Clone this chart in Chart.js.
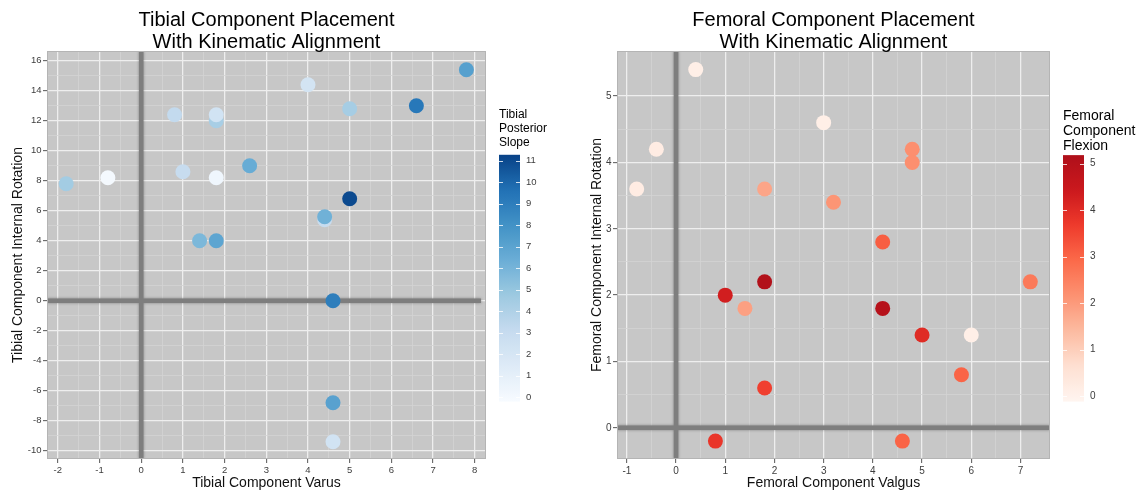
<!DOCTYPE html>
<html>
<head>
<meta charset="utf-8">
<script src="https://cdn.jsdelivr.net/npm/chart.js@4.4.1/dist/chart.umd.min.js"></script>
<style>
  html, body { margin: 0; padding: 0; background: #fff; }
  #wrap { position: relative; width: 1145px; height: 493px; overflow: hidden; }
  .box { position: absolute; top: 0; }
</style>
</head>
<body>
<div id="wrap">
  <div class="box" style="left:0"><canvas id="tibial" width="572" height="493"></canvas></div>
  <div class="box" style="left:572px"><canvas id="femoral" width="573" height="493"></canvas></div>
</div>
<script>
// tibial component (left plot)
const tibialVarus    = [-1.8, -0.8, 0.8, 1.8, 1.8, 1.0, 1.8, 2.6, 1.4, 1.8, 4.0, 5.0, 6.6, 7.8, 5.0, 4.4, 4.4, 4.6, 4.6, 4.6];
const tibialRotation = [7.8, 8.2, 12.4, 12.0, 12.4, 8.6, 8.2, 9.0, 4.0, 4.0, 14.4, 12.8, 13.0, 15.4, 6.8, 5.4, 5.6, 0.0, -6.8, -9.4];
const tibialSlope    = [4.5, 0.0, 3.2, 4.3, 2.3, 3.0, 0.3, 6.5, 5.8, 6.9, 2.2, 4.4, 9.3, 7.2, 11.0, 3.0, 6.2, 9.0, 7.1, 2.3];
const tibialXTicks = [-2, -1, 0, 1, 2, 3, 4, 5, 6, 7, 8];
const tibialYTicks = [-10, -8, -6, -4, -2, 0, 2, 4, 6, 8, 10, 12, 14, 16];
const slopeTicks = [0, 1, 2, 3, 4, 5, 6, 7, 8, 9, 10, 11];

// femoral component (right plot)
const femoralValgus   = [0.4, -0.4, -0.8, 3.0, 1.8, 3.2, 4.8, 4.8, 4.2, 1.8, 1.0, 1.4, 1.8, 0.8, 7.2, 4.2, 5.0, 6.0, 5.8, 4.6];
const femoralRotation = [5.4, 4.2, 3.6, 4.6, 3.6, 3.4, 4.2, 4.0, 2.8, 2.2, 2.0, 1.8, 0.6, -0.2, 2.2, 1.8, 1.4, 1.4, 0.8, -0.2];
const femoralFlexion  = [0.1, 0.2, 0.2, 0.1, 1.8, 2.1, 2.2, 2.2, 3.1, 5.1, 4.3, 1.9, 3.6, 3.8, 2.6, 5.0, 4.0, 0.1, 3.0, 3.0];
const femoralXTicks = [-1, 0, 1, 2, 3, 4, 5, 6, 7];
const femoralYTicks = [0, 1, 2, 3, 4, 5];
const flexionTicks = [0, 1, 2, 3, 4, 5];

const BLUES = ['#F7FBFF', '#DEEBF7', '#C6DBEF', '#9ECAE1', '#6BAED6', '#4292C6', '#2171B5', '#084287'];
const REDS  = ['#FFF5F0', '#FEE0D2', '#FCBBA1', '#FC9272', '#FB6A4A', '#EF3B2C', '#CB181D', '#AF101A'];

const FONT = '"Liberation Sans", Arial, sans-serif';

function hexToRgb(h) {
  return [parseInt(h.substr(1, 2), 16), parseInt(h.substr(3, 2), 16), parseInt(h.substr(5, 2), 16)];
}

function colourScale(stops, lo, hi) {
  const rgb = stops.map(hexToRgb);
  return (v) => {
    let t = (v - lo) / (hi - lo);
    t = Math.max(0, Math.min(1, t)) * (rgb.length - 1);
    const i = Math.min(rgb.length - 2, Math.floor(t));
    const f = t - i;
    const c = rgb[i].map((a, k) => Math.round(a + (rgb[i + 1][k] - a) * f));
    return 'rgb(' + c.join(',') + ')';
  };
}

// major ticks plus the ggplot-style minor lines half way between
function withMinor(ticks) {
  const out = [];
  ticks.forEach((t, i) => {
    out.push(t);
    if (i < ticks.length - 1) out.push((t + ticks[i + 1]) / 2);
  });
  return out;
}

function makePlot(id, cfg) {
  const major = new Set(cfg.xTicks);
  const majorY = new Set(cfg.yTicks);
  const colour = colourScale(cfg.stops, cfg.barMin, cfg.barMax);

  const gridOpts = (set) => ({
    color: (c) => set.has(c.tick.value) ? '#eeeeee' : '#d3d3d3',
    lineWidth: (c) => set.has(c.tick.value) ? 1.3 : 0.8,
    tickLength: 4,
    tickColor: (c) => set.has(c.tick.value) ? '#555555' : 'rgba(0,0,0,0)',
    tickWidth: 1
  });

  const panelPlugin = {
    id: 'panel',
    beforeDraw(chart) {
      const { ctx, chartArea: a } = chart;
      ctx.save();
      ctx.fillStyle = '#c7c7c7';
      ctx.fillRect(a.left, a.top, a.right - a.left, a.bottom - a.top);
      ctx.restore();
    },
    beforeDatasetsDraw(chart) {
      const { ctx, chartArea: a, scales } = chart;
      const x0 = scales.x.getPixelForValue(0);
      const y0 = scales.y.getPixelForValue(0);
      ctx.save();
      ctx.beginPath();
      ctx.rect(a.left, a.top, a.right - a.left, a.bottom - a.top);
      ctx.clip();
      ctx.strokeStyle = '#7e7e7e';
      ctx.lineWidth = 4.5;
      ctx.shadowColor = 'rgba(0,0,0,0.35)';
      ctx.shadowBlur = 3;
      ctx.beginPath();
      ctx.moveTo(x0, a.top); ctx.lineTo(x0, a.bottom);
      ctx.moveTo(a.left, y0); ctx.lineTo(a.right - cfg.hlineInset, y0);
      ctx.stroke();
      ctx.restore();
      ctx.save();
      ctx.strokeStyle = '#b4b4b4';
      ctx.lineWidth = 1;
      ctx.strokeRect(a.left + 0.5, a.top + 0.5, a.right - a.left - 1, a.bottom - a.top - 1);
      ctx.restore();
    },
    afterDraw(chart) {
      const { ctx, chartArea: a } = chart;
      ctx.save();
      // title
      ctx.fillStyle = '#000';
      ctx.font = '20px ' + FONT;
      ctx.textAlign = 'center';
      ctx.textBaseline = 'alphabetic';
      const cx = (a.left + a.right) / 2;
      ctx.fillText(cfg.title[0], cx, 26);
      ctx.fillText(cfg.title[1], cx, 48);

      // colour bar legend
      const L = cfg.legend;
      ctx.textAlign = 'left';
      ctx.fillStyle = '#000';
      ctx.font = L.titleSize + 'px ' + FONT;
      cfg.legendTitle.forEach((t, i) => ctx.fillText(t, L.x, L.titleBase + i * L.titleGap));

      const yOf = (v) => L.zeroY - v * L.unit;
      const top = yOf(cfg.barMax), bottom = yOf(cfg.barMin);
      const grad = ctx.createLinearGradient(0, bottom, 0, top);
      for (let k = 0; k <= 40; k++) {
        grad.addColorStop(k / 40, colour(cfg.barMin + (cfg.barMax - cfg.barMin) * k / 40));
      }
      ctx.fillStyle = grad;
      ctx.fillRect(L.x, top, L.w, bottom - top);

      ctx.strokeStyle = 'rgba(255,255,255,0.8)';
      ctx.lineWidth = 1;
      ctx.fillStyle = '#3d3d3d';
      ctx.font = L.tickSize + 'px ' + FONT;
      ctx.textBaseline = 'middle';
      cfg.barTicks.forEach((v) => {
        const y = Math.round(yOf(v)) + 0.5;
        ctx.beginPath();
        ctx.moveTo(L.x, y); ctx.lineTo(L.x + 4, y);
        ctx.moveTo(L.x + L.w - 4, y); ctx.lineTo(L.x + L.w, y);
        ctx.stroke();
        ctx.fillText(String(v), L.x + L.w + 6, yOf(v));
      });
      ctx.restore();
    }
  };

  const points = cfg.xs.map((x, i) => ({ x: x, y: cfg.ys[i] }));

  return new Chart(document.getElementById(id), {
    type: 'scatter',
    data: {
      datasets: [{
        data: points,
        backgroundColor: cfg.values.map(colour),
        borderWidth: 0,
        pointRadius: 7.5,
        pointHoverRadius: 7.5
      }]
    },
    options: {
      responsive: false,
      animation: false,
      events: [],
      layout: { padding: { left: 0, top: 51, right: cfg.padRight, bottom: 0 } },
      plugins: { legend: { display: false }, tooltip: { enabled: false }, title: { display: false } },
      scales: {
        x: {
          type: 'linear',
          min: cfg.xMin, max: cfg.xMax,
          afterBuildTicks: (s) => { s.ticks = withMinor(cfg.xTicks).map((v) => ({ value: v })); },
          afterFit: (s) => { s.height = 34; },
          ticks: {
            autoSkip: false, maxRotation: 0, padding: 2,
            color: '#3d3d3d', font: { family: FONT, size: cfg.tickSize },
            callback: (v) => major.has(v) ? String(v) : ''
          },
          grid: gridOpts(major),
          border: { display: false },
          title: {
            display: true, text: cfg.xTitle, color: '#111',
            font: { family: FONT, size: 14 }, padding: { top: 0, bottom: 1.6 }
          }
        },
        y: {
          type: 'linear',
          min: cfg.yMin, max: cfg.yMax,
          afterBuildTicks: (s) => { s.ticks = withMinor(cfg.yTicks).map((v) => ({ value: v })); },
          afterFit: (s) => { s.width = cfg.yWidth; },
          ticks: {
            autoSkip: false, padding: 1.5,
            color: '#3d3d3d', font: { family: FONT, size: cfg.tickSize },
            callback: (v) => majorY.has(v) ? String(v) : ''
          },
          grid: gridOpts(majorY),
          border: { display: false },
          title: {
            display: true, text: cfg.yTitle, color: '#111',
            font: { family: FONT, size: 14 }, padding: { top: cfg.yTitlePad, bottom: 0 }
          }
        }
      }
    },
    plugins: [panelPlugin]
  });
}

makePlot('tibial', {
  xs: tibialVarus, ys: tibialRotation, values: tibialSlope,
  xTicks: tibialXTicks, yTicks: tibialYTicks, barTicks: slopeTicks,
  xMin: -2.26, xMax: 8.27, yMin: -10.55, yMax: 16.65,
  stops: BLUES, barMin: -0.2, barMax: 11.28,
  title: ['Tibial Component Placement', 'With Kinematic Alignment'],
  xTitle: 'Tibial Component Varus',
  yTitle: 'Tibial Component Internal Rotation',
  legendTitle: ['Tibial', 'Posterior', 'Slope'],
  legend: { x: 499, w: 21, zeroY: 397.3, unit: 21.5, titleBase: 118, titleGap: 14, titleSize: 12, tickSize: 9.5 },
  padRight: 86, yWidth: 47, yTitlePad: 9.3, tickSize: 9.5, hlineInset: 5
});

makePlot('femoral', {
  xs: femoralValgus, ys: femoralRotation, values: femoralFlexion,
  xTicks: femoralXTicks, yTicks: femoralYTicks, barTicks: flexionTicks,
  xMin: -1.2, xMax: 7.6, yMin: -0.47, yMax: 5.68,
  stops: REDS, barMin: -0.12, barMax: 5.18,
  title: ['Femoral Component Placement', 'With Kinematic Alignment'],
  xTitle: 'Femoral Component Valgus',
  yTitle: 'Femoral Component Internal Rotation',
  legendTitle: ['Femoral', 'Component', 'Flexion'],
  legend: { x: 491, w: 21, zeroY: 396, unit: 46.5, titleBase: 120, titleGap: 15, titleSize: 14, tickSize: 10 },
  padRight: 95, yWidth: 45, yTitlePad: 16.6, tickSize: 10, hlineInset: 0
});
</script>
</body>
</html>
